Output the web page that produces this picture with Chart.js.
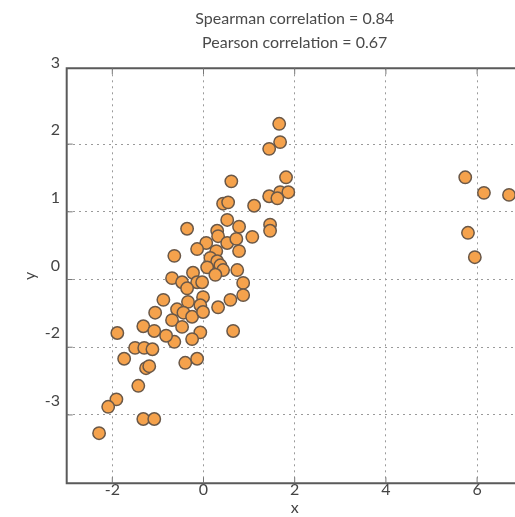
<!DOCTYPE html>
<html>
<head>
<meta charset="utf-8">
<script src="https://cdn.jsdelivr.net/npm/chart.js@4"></script>
<style>
    html, body { margin: 0; padding: 0; overflow: hidden; background: #fff; }
</style>
</head>
<body>
<canvas id="scatterChart" width="540" height="517"></canvas>
<script>
const titleLines = ['Spearman correlation = 0.84', 'Pearson correlation = 0.67'];

const xValues = [
    1.66, 1.68, 1.44, 0.61, 1.81, 1.44, 1.68, 1.86, 1.62, 0.43,
    0.54, 1.11, 0.52, 0.78, 1.46, 1.46, -0.36, 0.30, 0.32, 1.07,
    0.06, -0.14, 0.52, 0.72, 0.78, 0.28, -0.64, 0.15, 0.30, 0.08,
    0.37, 0.43, 0.74, 0.26, -0.23, -0.69, -0.47, -0.14, -0.03, 0.87,
    -0.36, -0.88, -0.34, -0.01, -0.58, -0.44, -0.25, -1.06, -0.07, -0.01,
    0.32, 0.59, 0.87, -0.69, -0.47, -0.07, -0.25, -0.64, -1.32, -1.08,
    -0.82, -1.89, 0.65, -1.50, -1.30, -1.12, -1.74, -1.26, -1.19, -0.40,
    -0.14, -1.43, -1.91, -2.09, -1.32, -1.08, -2.29,
    5.74, 6.15, 6.70, 5.80, 5.95
];

const yValues = [
    2.30, 2.03, 1.93, 1.45, 1.51, 1.23, 1.29, 1.29, 1.20, 1.12,
    1.14, 1.09, 0.88, 0.78, 0.81, 0.72, 0.75, 0.72, 0.64, 0.63,
    0.54, 0.45, 0.54, 0.60, 0.42, 0.42, 0.35, 0.32, 0.27, 0.18,
    0.21, 0.14, 0.14, 0.07, 0.10, 0.02, -0.04, -0.04, -0.04, -0.05,
    -0.13, -0.30, -0.33, -0.26, -0.44, -0.49, -0.55, -0.49, -0.38, -0.48,
    -0.41, -0.30, -0.23, -0.60, -0.70, -0.78, -0.88, -0.92, -0.69, -0.76,
    -0.83, -0.79, -0.76, -1.01, -1.01, -1.03, -1.17, -1.31, -1.28, -1.23,
    -1.17, -1.57, -1.77, -1.88, -2.06, -2.06, -2.27,
    1.51, 1.28, 1.25, 0.69, 0.33
];

const xTicks = [-2, 0, 2, 4, 6];
const yTicks = [-3, -2, -1, 0, 1, 2, 3];
const yTickLabels = ['', '-3', '-2', '0', '1', '2', '3'];

// box round the plot plus the small inward tick marks
const framePlugin = {
    id: 'frame',
    afterDraw(chart) {
        const { ctx, chartArea: a, scales } = chart;
        ctx.save();
        ctx.strokeStyle = '#5a5a5a';
        ctx.lineWidth = 2;
        ctx.beginPath();
        ctx.moveTo(a.right, a.top);
        ctx.lineTo(a.left, a.top);
        ctx.lineTo(a.left, a.bottom);
        ctx.lineTo(a.right, a.bottom);
        ctx.stroke();

        ctx.lineWidth = 1;
        ctx.strokeStyle = '#777';
        ctx.beginPath();
        xTicks.forEach(v => {
            const p = scales.x.getPixelForValue(v);
            ctx.moveTo(p, a.bottom);
            ctx.lineTo(p, a.bottom - 6);
            ctx.moveTo(p, a.top);
            ctx.lineTo(p, a.top + 6);
        });
        yTicks.slice(1, -1).forEach(v => {
            const p = scales.y.getPixelForValue(v);
            ctx.moveTo(a.left, p);
            ctx.lineTo(a.left + 6, p);
        });
        ctx.stroke();
        ctx.restore();
    }
};

class ScatterView {
    constructor() {
        this.renderChart();
    }

    renderChart() {
        const points = [];
        for (let i = 0; i < xValues.length; i++) {
            points.push({ x: xValues[i], y: yValues[i] });
        }

        const font = { family: 'Lato', size: 16 };
        const ctx = document.getElementById('scatterChart').getContext('2d');
        new Chart(ctx, {
            type: 'scatter',
            data: {
                datasets: [{
                    data: points,
                    backgroundColor: '#f5a24c',
                    borderColor: '#6a5848',
                    borderWidth: 1.5,
                    pointRadius: 6.2,
                    pointHoverRadius: 6.2
                }]
            },
            options: {
                responsive: false,
                animation: false,
                layout: { padding: { left: 0, right: 17.3, top: 0, bottom: 0 } },
                plugins: {
                    legend: { display: false },
                    tooltip: { enabled: false },
                    title: {
                        display: true,
                        text: titleLines,
                        fullSize: false,
                        color: '#4a4a4a',
                        font: { family: 'Lato', size: 16, weight: 'normal', lineHeight: 1.55 },
                        padding: { top: 6, bottom: 12.7 }
                    }
                },
                scales: {
                    x: {
                        type: 'linear',
                        min: -3,
                        max: 7,
                        afterBuildTicks: s => { s.ticks = xTicks.map(v => ({ value: v })); },
                        afterFit: s => { s.height = 33.7; },
                        grid: { color: '#9a9a9a', lineWidth: 1, drawTicks: false },
                        border: { display: false, dash: [2, 4] },
                        ticks: { color: '#444', font: font, padding: -3, maxRotation: 0 },
                        title: { display: true, text: 'x', color: '#444', font: font, padding: { top: 0, bottom: 0 } }
                    },
                    y: {
                        type: 'linear',
                        min: -3.01,
                        max: 3.12,
                        afterBuildTicks: s => { s.ticks = yTicks.map(v => ({ value: v })); },
                        afterFit: s => { s.width = 66.7; },
                        grid: {
                            color: c => (c.tick && Math.abs(c.tick.value) === 3) ? 'rgba(0,0,0,0)' : '#9a9a9a',
                            lineWidth: 1,
                            drawTicks: false
                        },
                        border: { display: false, dash: [2, 4] },
                        ticks: {
                            color: '#444',
                            font: font,
                            padding: 6.7,
                            labelOffset: -14,
                            callback: v => yTickLabels[yTicks.indexOf(v)]
                        },
                        title: { display: true, text: 'y', color: '#444', font: font, padding: { top: 20, bottom: 0 } }
                    }
                }
            },
            plugins: [framePlugin]
        });
    }
}

const app = new ScatterView();
</script>
</body>
</html>
